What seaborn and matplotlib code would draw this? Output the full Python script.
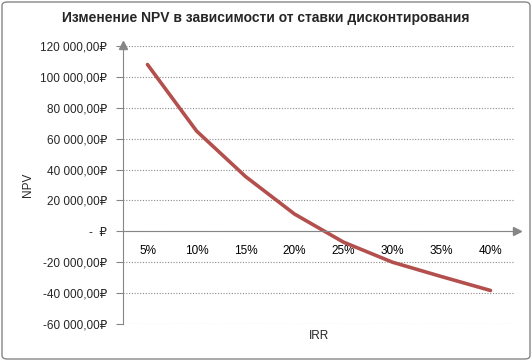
import matplotlib
matplotlib.use('Agg')
import matplotlib.pyplot as plt
import seaborn as sns
import pandas as pd
from matplotlib.patches import FancyBboxPatch
from matplotlib.ticker import FuncFormatter

# data
rates = ['5%', '10%', '15%', '20%', '25%', '30%', '35%', '40%']
npv = [108000, 65000, 35500, 11200, -7000, -20000, -29300, -38300]
y_ticks = [-60000, -40000, -20000, 0, 20000, 40000, 60000, 80000, 100000, 120000]

sns.set_style('white')
plt.rcParams['font.family'] = ['Liberation Sans', 'DejaVu Sans']

df = pd.DataFrame({'IRR': rates, 'NPV': npv})

fig = plt.figure(figsize=(5.32, 3.61), dpi=100)
ax = fig.add_axes([123/532, 1 - 324/361, 392/532, 278/361])

sns.lineplot(data=df, x='IRR', y='NPV', sort=False, color='#B3504D', linewidth=2.6, ax=ax)

ax.set_xlim(-0.5, 7.5)
ax.set_ylim(-60000, 120000)
ax.set_yticks(y_ticks)

def rub(v, pos):
    if v == 0:
        return '-  \u20bd'
    return f'{v:,.2f}'.replace(',', ' ').replace('.', ',') + '\u20bd'

ax.yaxis.set_major_formatter(FuncFormatter(rub))
ax.grid(axis='y', color='#8a8a8a', linestyle=(0, (1, 1.5)), linewidth=0.8)
ax.grid(axis='x', visible=False)

# spines: y axis on the left, x axis through zero
for s in ['top', 'right']:
    ax.spines[s].set_visible(False)
ax.spines['bottom'].set_position(('data', 0))
ax.spines['bottom'].set_color('#868686')
ax.spines['left'].set_color('#868686')

ax.set_xticks(range(len(rates)))
ax.set_xticks([i - 0.5 for i in range(len(rates) + 1)], minor=True)
ax.tick_params(axis='x', which='major', length=0, pad=10, labelsize=8.5, colors='#000000')
ax.tick_params(axis='x', which='minor', direction='inout', length=6, color='#868686', width=0.8)
ax.tick_params(axis='y', length=5, color='#868686', width=0.8, pad=6.5, labelsize=8.5, left=True)

# axis arrows
ax.plot(1.005, 0, '>', color='#868686', markersize=6, transform=ax.get_yaxis_transform(), clip_on=False)
ax.plot(0, 1.005, '^', color='#868686', markersize=6, transform=ax.transAxes, clip_on=False)

ax.set_xlabel('IRR', fontsize=8.5)
ax.set_ylabel('NPV', fontsize=8.5)
ax.xaxis.set_label_coords(0.5, -0.022)
ax.yaxis.set_label_coords(-0.227, 0.5)

fig.text(0.5, 1 - 18/361, 'Изменение NPV в зависимости от ставки дисконтирования',
         ha='center', va='center', fontsize=10, fontweight='bold')

frame = FancyBboxPatch((2/532, 2/361), 528/532, 357/361, boxstyle='round,pad=0,rounding_size=0.01',
                       transform=fig.transFigure, fill=False, edgecolor='#868686', linewidth=1)
fig.patches.append(frame)

fig.savefig('out.png', dpi=100)
